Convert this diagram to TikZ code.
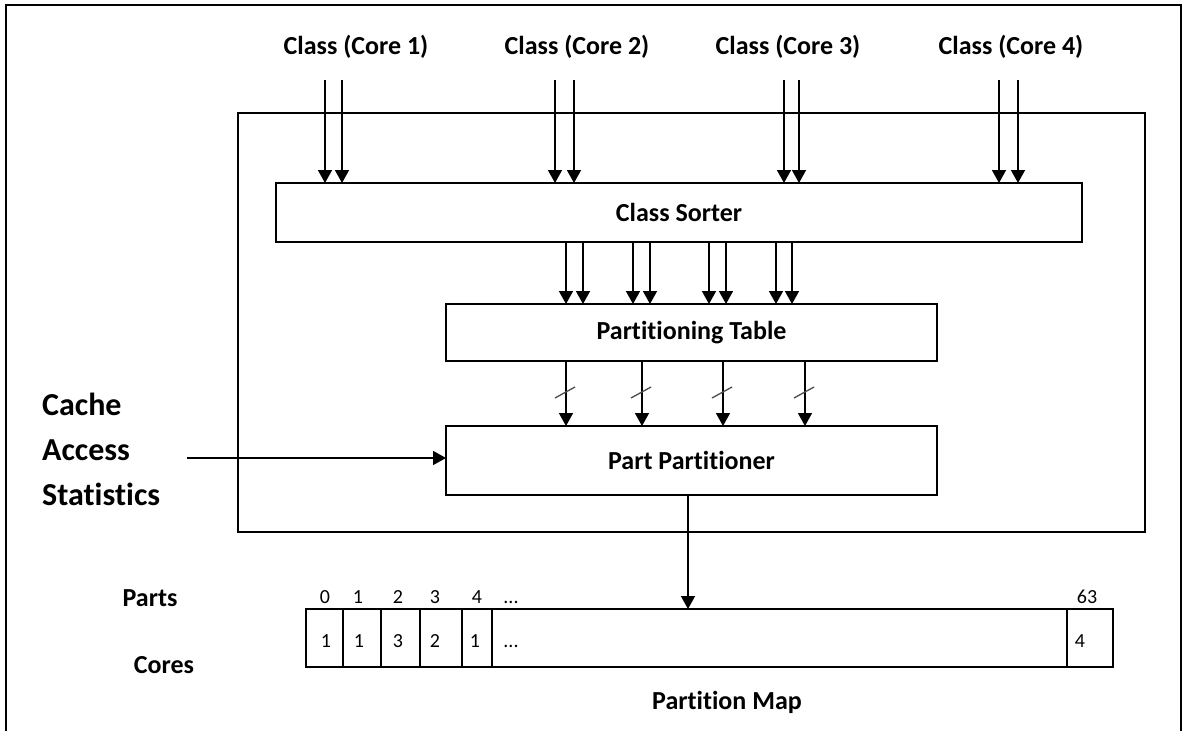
\documentclass[tikz,border=0pt]{standalone}
\usepackage{fontspec}
\setmainfont[RawFeature={-liga;-clig;-calt;-dlig}]{Carlito}
\usetikzlibrary{arrows.meta}
\begin{document}
\begin{tikzpicture}[x=1pt,y=-1pt,
  box/.style={draw, line width=1.6pt, inner sep=0pt, outer sep=0pt},
  lbl/.style={font=\fontsize{26}{31}\selectfont\bfseries, inner sep=0pt},
  big/.style={font=\fontsize{32}{45}\selectfont\bfseries, inner sep=0pt, align=left},
  num/.style={font=\fontsize{20}{22}\selectfont, inner sep=0pt, anchor=base},
  arr/.style={line width=1.6pt, -{Triangle[width=14pt,length=13pt]}},
  slash/.style={line width=1.3pt, draw=black!70},
  divider/.style={line width=1.6pt}]
\useasboundingbox (0,0) rectangle (1184,731);
\draw[line width=2pt] (6,731) -- (6,5) -- (1181,5) -- (1181,731);

% boxes
\node[box, minimum width=907pt, minimum height=419pt] (inner) at (691.5,322.5) {};
\node[box, lbl, minimum width=806pt, minimum height=59pt] (sorter) at (679,212.5) {Class Sorter};
\node[box, lbl, minimum width=491pt, minimum height=57pt] (table) at (691.5,332.5) {Partitioning Table};
\node[box, lbl, minimum width=491pt, minimum height=69pt] (pp) at (691.5,460.5) {Part Partitioner};
\node[box, minimum width=807pt, minimum height=58pt] (map) at (709.5,638) {};

% class labels
\node[lbl] (l1) at (356,47) {Class (Core 1)};
\node[lbl] (l2) at (577,47) {Class (Core 2)};
\node[lbl] (l3) at (788,47) {Class (Core 3)};
\node[lbl] (l4) at (1011,47) {Class (Core 4)};

% input arrows
\foreach \x [count=\i] in {325,342,555,574,784,799,999,1018} {
  \coordinate (in\i) at (\x,80);
  \draw[arr] (in\i) -- (in\i |- sorter.north);
}
% sorter -> table
\foreach \x [count=\i] in {566,583,633,650,709,726,776,792} {
  \coordinate (s\i) at (\x,0);
  \draw[arr] (s\i |- sorter.south) -- (s\i |- table.north);
}
% table -> part partitioner with bus slashes
\foreach \x [count=\i] in {566,642,723,805} {
  \coordinate (p\i) at (\x,0);
  \draw[arr] (p\i |- table.south) -- (p\i |- pp.north);
  \draw[slash] (\x-11,398) -- (\x+9,387);
}

% cache access statistics
\node[big, anchor=west] (cas) at (42,449) {Cache\\Access\\Statistics};
\coordinate (cs) at (187,458);
\draw[arr] (cs) -- (cs -| pp.west);

% part partitioner -> map
\coordinate (pm) at (688,0);
\draw[arr] (pm |- pp.south) -- (pm |- map.north);

% map dividers
\foreach \x in {343,381,420,462,492,1067} {
  \coordinate (d\x) at (\x,0);
  \draw[divider] (d\x |- map.north) -- (d\x |- map.south);
}

% parts numbers
\node[num] (n0) at (325,603) {0};
\node[num] (n1) at (358,603) {1};
\node[num] (n2) at (398,603) {2};
\node[num] (n3) at (435,603) {3};
\node[num] (n4) at (477,603) {4};
\node[num] (nd) at (511,603) {...};
\node[num] (n63) at (1087,603) {63};

% core numbers
\node[num] (c0) at (326,647) {1};
\node[num] (c1) at (359,647) {1};
\node[num] (c2) at (398,647) {3};
\node[num] (c3) at (435,647) {2};
\node[num] (c4) at (475,647) {1};
\node[num] (cd) at (511,647) {...};
\node[num] (c63) at (1080,647) {4};

% side labels
\node[lbl] (parts) at (150,598) {Parts};
\node[lbl] (cores) at (164,665) {Cores};
\node[lbl] (pmap) at (727,702) {Partition Map};
\end{tikzpicture}
\end{document}
